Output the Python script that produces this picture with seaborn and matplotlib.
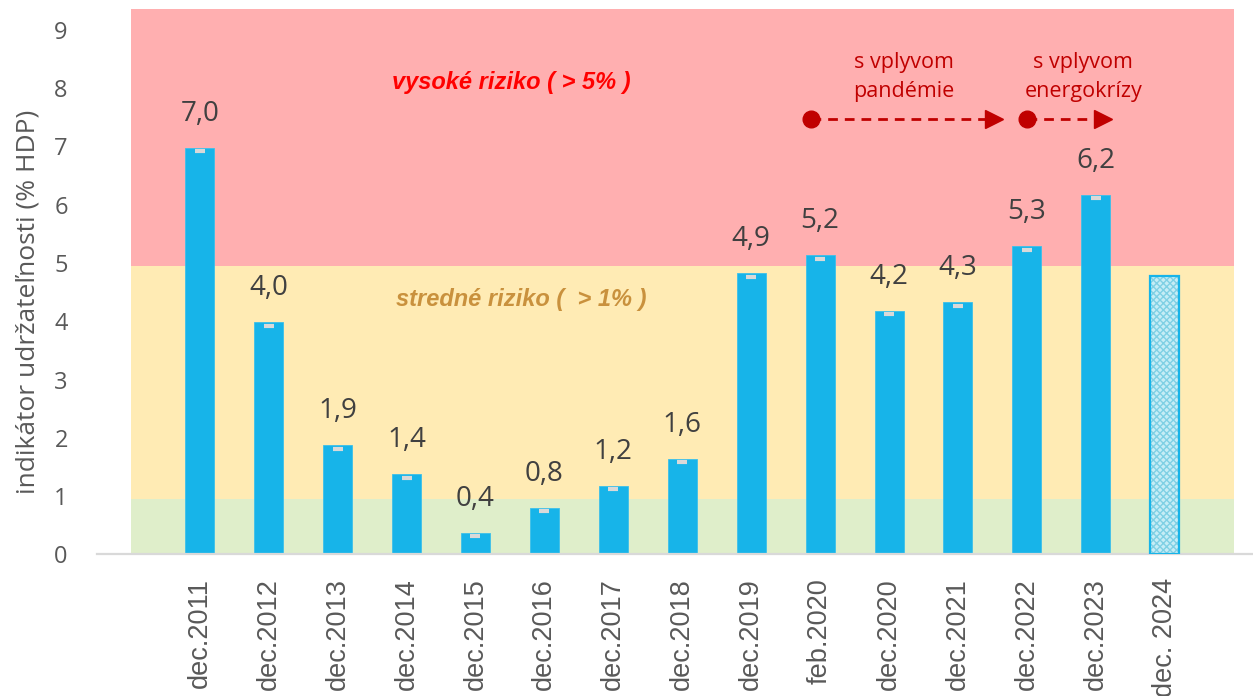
import numpy as np
import pandas as pd
import matplotlib
matplotlib.use("Agg")
import matplotlib.pyplot as plt
import seaborn as sns

# Údaje (odčítané z grafu)
periods = ["dec.2011", "dec.2012", "dec.2013", "dec.2014", "dec.2015", "dec.2016",
           "dec.2017", "dec.2018", "dec.2019", "feb.2020", "dec.2020", "dec.2021",
           "dec.2022", "dec.2023", "dec. 2024"]
values = [6.98, 3.98, 1.87, 1.37, 0.37, 0.80, 1.18, 1.64, 4.82, 5.13, 4.18, 4.33,
          5.29, 6.17, 4.78]
value_labels = ["7,0", "4,0", "1,9", "1,4", "0,4", "0,8", "1,2", "1,6", "4,9", "5,2",
                "4,2", "4,3", "5,3", "6,2", ""]
marker_values = [6.92, 3.92, 1.81, 1.31, 0.31, 0.74, 1.12, 1.58, 4.76, 5.07, 4.12,
                 4.27, 5.23, 6.11]
band_edges = [0, 0.95, 4.95, 9.36]
band_colors = ["#dfeeca", "#ffebb4", "#ffafb0"]

sns.set_style("white")
plt.rcParams["font.family"] = ["Open Sans", "DejaVu Sans"]

fig = plt.figure(figsize=(12.53, 6.96), dpi=100)
ax = fig.add_axes([97 / 1253, (696 - 554.3) / 696, 1156 / 1253, 545.3 / 696])

# Pásma rizika
for lo, hi, col in zip(band_edges[:-1], band_edges[1:], band_colors):
    ax.fill_between([-1, len(periods)], lo, hi, color=col, lw=0, zorder=0)

df = pd.DataFrame({"obdobie": periods, "hodnota": values})
sns.barplot(data=df, x="obdobie", y="hodnota", color="#17b4e9", saturation=1,
            width=0.42, ax=ax, zorder=2, edgecolor="#3cc0ea", linewidth=0.6)

# posledný stĺpec - odhad (šrafovaný)
last = ax.patches[-1]
last.set_facecolor("#c6edf6")
last.set_edgecolor("#7fd0e4")
last.set_hatch("xxxxx")
last.set_linewidth(0)
ax.bar(len(periods) - 1, values[-1], width=0.42, fill=False,
       edgecolor="#17b4e9", linewidth=1.6, zorder=3)

# malé sivé značky
ax.plot(np.arange(len(marker_values)), marker_values, ls="none", marker="_",
        ms=7, mew=3, color="#d9d9d9", zorder=4)

# popisky hodnôt
for i, (v, lab) in enumerate(zip(values, value_labels)):
    if lab:
        ax.annotate(lab, (i, v), xytext=(0, 24.5), textcoords="offset points",
                    ha="center", va="center", fontsize=20, color="#404040")

ax.set_xlim(-1.49, 15.28)
ax.set_ylim(0, 9.36)
ax.set_yticks(range(0, 10))
ax.set_xlabel("")
ax.set_ylabel("indikátor udržateľnosti (% HDP)", fontsize=19, color="#595959")
ax.yaxis.set_label_coords(-0.049, 0.463)

for s in ["top", "right", "left"]:
    ax.spines[s].set_visible(False)
ax.spines["bottom"].set_color("#d9d9d9")
ax.spines["bottom"].set_linewidth(1.6)

ax.tick_params(axis="y", length=0, pad=21, labelsize=17, labelcolor="#595959")
ax.tick_params(axis="x", which="major", length=0, pad=17)
ax.set_xticks(range(len(periods)))
ax.set_xticklabels(periods, rotation=90, fontsize=19.5, color="#595959",
                   family="Liberation Sans", va="top", ha="center")
ax.set_xticks([-1, 14], minor=True)
ax.tick_params(axis="x", which="minor", length=3, width=4.5, color="#d9d9d9")

# texty pásiem
ax.text(4.52, 8.09, "vysoké riziko ( > 5% )", ha="center", va="center", fontsize=17,
        color="#ff0000", fontweight="bold", fontstyle="italic", family="Liberation Sans")
ax.text(4.66, 4.37, "stredné riziko (  > 1% )", ha="center", va="center", fontsize=17,
        color="#c9913d", fontweight="bold", fontstyle="italic", family="Liberation Sans")

# šípky s vplyvom
dark_red = "#c00000"
arrows = [(8.87, 11.52, 10.22, "s vplyvom\npandémie"),
          (12.0, 13.1, 12.82, "s vplyvom\nenergokrízy")]
arrow_y = 7.47
for x0, x1, xt, txt in arrows:
    ax.plot([x0, x1 - 0.1], [arrow_y, arrow_y], color=dark_red, lw=2,
            dashes=(3.5, 2.5), zorder=5)
    ax.plot(x0, arrow_y, marker="o", ms=12, color=dark_red, zorder=6)
    ax.plot(x1, arrow_y, marker=">", ms=13, color=dark_red, zorder=6)
    ax.text(xt, 8.2, txt, ha="center", va="center", fontsize=15.5, color=dark_red,
            linespacing=1.5)

fig.savefig("out.png", dpi=100)
